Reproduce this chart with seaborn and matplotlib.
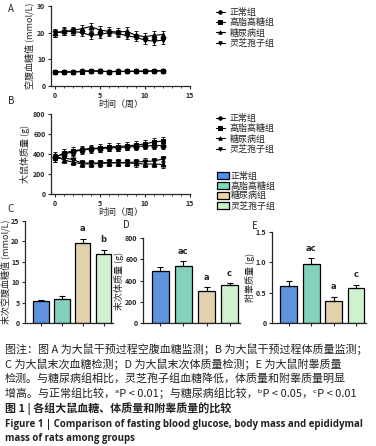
import numpy as np
import pandas as pd
import seaborn as sns
import matplotlib.pyplot as plt

sns.set_style('ticks')
plt.rcParams['font.family'] = ['Noto Sans CJK SC', 'DejaVu Sans']
plt.rcParams['axes.linewidth'] = 0.9
plt.rcParams['xtick.major.width'] = 0.8
plt.rcParams['ytick.major.width'] = 0.8
plt.rcParams['xtick.major.size'] = 2.5
plt.rcParams['ytick.major.size'] = 2.5

groups = ['正常组', '高脂高糖组', '糖尿病组', '灵芝孢子组']
weeks = list(range(13))

# A: fasting glucose during intervention (mmol/L)
glu_normal = [5.3, 5.3, 5.2, 5.5, 5.8, 5.6, 5.4, 5.5, 5.5, 5.5, 5.6, 5.7, 5.8]
glu_hfhs = [5.2, 5.3, 5.3, 5.4, 5.6, 5.5, 5.4, 5.4, 5.5, 5.5, 5.5, 5.6, 5.6]
glu_dm = [20.0, 20.5, 20.8, 21.5, 22.3, 21.0, 20.5, 20.2, 20.5, 19.0, 18.5, 19.0, 19.3]
glu_gl = [19.8, 20.3, 20.5, 20.0, 19.0, 19.3, 20.0, 19.8, 18.8, 18.3, 17.2, 16.8, 17.2]
glu_sd = [0.3, 0.3, 1.5, 1.3]

# B: body mass during intervention (g)
bw_normal = [370, 400, 420, 440, 450, 455, 460, 465, 470, 475, 480, 485, 485]
bw_hfhs = [360, 410, 430, 445, 455, 460, 470, 475, 480, 490, 500, 520, 530]
bw_dm = [390, 340, 320, 300, 300, 305, 310, 310, 310, 305, 300, 300, 295]
bw_gl = [355, 360, 345, 310, 310, 310, 315, 315, 315, 320, 325, 330, 350]
bw_sd = [30, 40, 35, 35]

# C, D, E: final measurements
final_glu = [5.3, 6.0, 19.6, 16.9]
final_glu_sd = [0.3, 0.5, 0.9, 0.9]
final_glu_sig = ['', '', 'a', 'b']
final_bw = [490, 535, 300, 355]
final_bw_sd = [35, 45, 38, 25]
final_bw_sig = ['', 'ac', 'a', 'c']
epi = [0.61, 0.97, 0.37, 0.57]
epi_sd = [0.09, 0.10, 0.06, 0.06]
epi_sig = ['', 'ac', 'a', 'c']

bar_colors = ['#4b8ff2', '#79dcc0', '#ead6a4', '#c9f7c9']
markers = ['o', 's', '^', 'v']

fig = plt.figure(figsize=(3.76, 4.46), dpi=100)
W, H = 376, 446


def add_ax(x0, x1, ytop, ybot):
    return fig.add_axes([x0 / W, 1 - ybot / H, (x1 - x0) / W, (ybot - ytop) / H])


def line_panel(ax, series, sds, ylim, yticks, ylabel, legend_y):
    df = pd.DataFrame({
        'week': weeks * 4,
        'value': sum(series, []),
        'group': [g for g in groups for _ in weeks],
    })
    sns.lineplot(data=df, x='week', y='value', hue='group', style='group',
                 markers=dict(zip(groups, markers)), dashes=False,
                 palette=['black'] * 4, markersize=3.5, linewidth=0.8,
                 markeredgecolor='black', ax=ax)
    for s, sd in zip(series, sds):
        ax.errorbar(weeks, s, yerr=sd, fmt='none', ecolor='black',
                    elinewidth=0.6, capsize=1.5, capthick=0.6)
    ax.set_xlim(-0.4, 15)
    ax.set_ylim(*ylim)
    ax.set_xticks([0, 5, 10, 15])
    ax.set_xticks(range(16), minor=True)
    ax.tick_params(axis='x', which='minor', length=1.5, width=0.6)
    ax.set_yticks(yticks)
    ax.tick_params(labelsize=5, pad=1.5)
    for lab in ax.get_xticklabels() + ax.get_yticklabels():
        lab.set_fontweight('bold')
    ax.set_xlabel('时间（周）', fontsize=6.5, labelpad=1)
    ax.set_ylabel(ylabel, fontsize=6.5, labelpad=2)
    sns.despine(ax=ax)
    sns.move_legend(ax, loc='center left', bbox_to_anchor=(211 / W, 1 - legend_y / H),
                    bbox_transform=fig.transFigure, frameon=False, title=None,
                    fontsize=6.5, handlelength=1.1, handletextpad=0.5,
                    labelspacing=0.12, borderpad=0, markerscale=0.7)


def bar_panel(ax, vals, sds, sig, ylim, yticks, ylabel, ticklabels=None):
    df = pd.DataFrame({'group': groups, 'value': vals})
    sns.barplot(data=df, x='group', y='value', hue='group', palette=bar_colors,
                width=0.75, edgecolor='black', linewidth=0.9, legend=False,
                errorbar=None, ax=ax)
    ax.errorbar(range(4), vals, yerr=[[0] * 4, sds], fmt='none', ecolor='black',
                elinewidth=0.8, capsize=2.5, capthick=0.8)
    span = ylim[1] - ylim[0]
    for i, (v, sd, t) in enumerate(zip(vals, sds, sig)):
        if t:
            ax.text(i, v + sd + span * 0.06, t, ha='center', va='bottom',
                    fontsize=6, family=['DejaVu Sans'], fontweight='bold')
    ax.set_xlim(-0.75, 3.45)
    ax.set_ylim(*ylim)
    ax.set_yticks(yticks)
    if ticklabels:
        ax.set_yticklabels(ticklabels)
    ax.set_xticks(range(4))
    ax.set_xticklabels([])
    ax.set_xlabel('')
    ax.set_ylabel(ylabel, fontsize=6.5, labelpad=1)
    ax.tick_params(labelsize=5, pad=1.5)
    for lab in ax.get_yticklabels():
        lab.set_fontweight('bold')
    sns.despine(ax=ax)


# panel A
axA = add_ax(51, 190, 6, 86)
line_panel(axA, [glu_normal, glu_hfhs, glu_dm, glu_gl], glu_sd, (0, 30),
           [0, 10, 20, 30], '空腹血糖值 (mmol/L)', 28)

# panel B
axB = add_ax(51, 190, 114, 194)
line_panel(axB, [bw_normal, bw_hfhs, bw_dm, bw_gl], bw_sd, (0, 800),
           [0, 200, 400, 600, 800], '大鼠体质量 (g)', 134)

# bar legend
handles = [plt.Rectangle((0, 0), 1, 1, facecolor=c, edgecolor='black', linewidth=0.9)
           for c in bar_colors]
fig.legend(handles, groups, loc='center left', bbox_to_anchor=(212 / W, 1 - 191 / H),
           frameon=False, fontsize=6.5, handlelength=1.4, handleheight=0.8,
           handletextpad=0.15, labelspacing=0.1, borderpad=0)

# panels C, D, E
axC = add_ax(25, 113, 221, 323)
bar_panel(axC, final_glu, final_glu_sd, final_glu_sig, (0, 25), [0, 5, 10, 15, 20, 25],
          '末次空腹血糖值 (mmol/L)')
axD = add_ax(143, 240, 238, 323)
bar_panel(axD, final_bw, final_bw_sd, final_bw_sig, (0, 800), [0, 200, 400, 600, 800],
          '末次体质量 (g)')
axE = add_ax(272, 366, 232, 323)
bar_panel(axE, epi, epi_sd, epi_sig, (0, 1.5), [0, 0.5, 1.0, 1.5], '附睾质量 (g)',
          ['0', '0.5', '1.0', '1.5'])

for lab, x, y in [('A', 8, 9), ('B', 8, 101), ('C', 7, 209), ('D', 123, 225), ('E', 252, 226)]:
    fig.text(x / W, 1 - y / H, lab, fontsize=7, ha='left', va='center')

# caption
cap = [
    '图注：图 A 为大鼠干预过程空腹血糖监测；B 为大鼠干预过程体质量监测；',
    'C 为大鼠末次血糖检测；D 为大鼠末次体质量检测；E 为大鼠附睾质量',
    '检测。与糖尿病组相比，灵芝孢子组血糖降低，体质量和附睾质量明显',
    '增高。与正常组比较，ᵃP < 0.01；与糖尿病组比较，ᵇP < 0.05，ᶜP < 0.01',
]
for txt, y in zip(cap, [349, 364, 378, 393]):
    fig.text(5 / W, 1 - y / H, txt, fontsize=7.95, va='center', color='#222222')
fig.text(5 / W, 1 - 409 / H, '图 1 | 各组大鼠血糖、体质量和附睾质量的比较', fontsize=7.95,
         va='center', fontweight='bold', color='#222222')
fig.text(5 / W, 1 - 424 / H,
         'Figure 1 | Comparison of fasting blood glucose, body mass and epididymal',
         fontsize=7.0, va='center', fontweight='bold', family=['Open Sans', 'DejaVu Sans'],
         color='#222222')
fig.text(5 / W, 1 - 438 / H, 'mass of rats among groups', fontsize=7.0, va='center',
         fontweight='bold', family=['Open Sans', 'DejaVu Sans'], color='#222222')

fig.savefig('out.png', dpi=100)
